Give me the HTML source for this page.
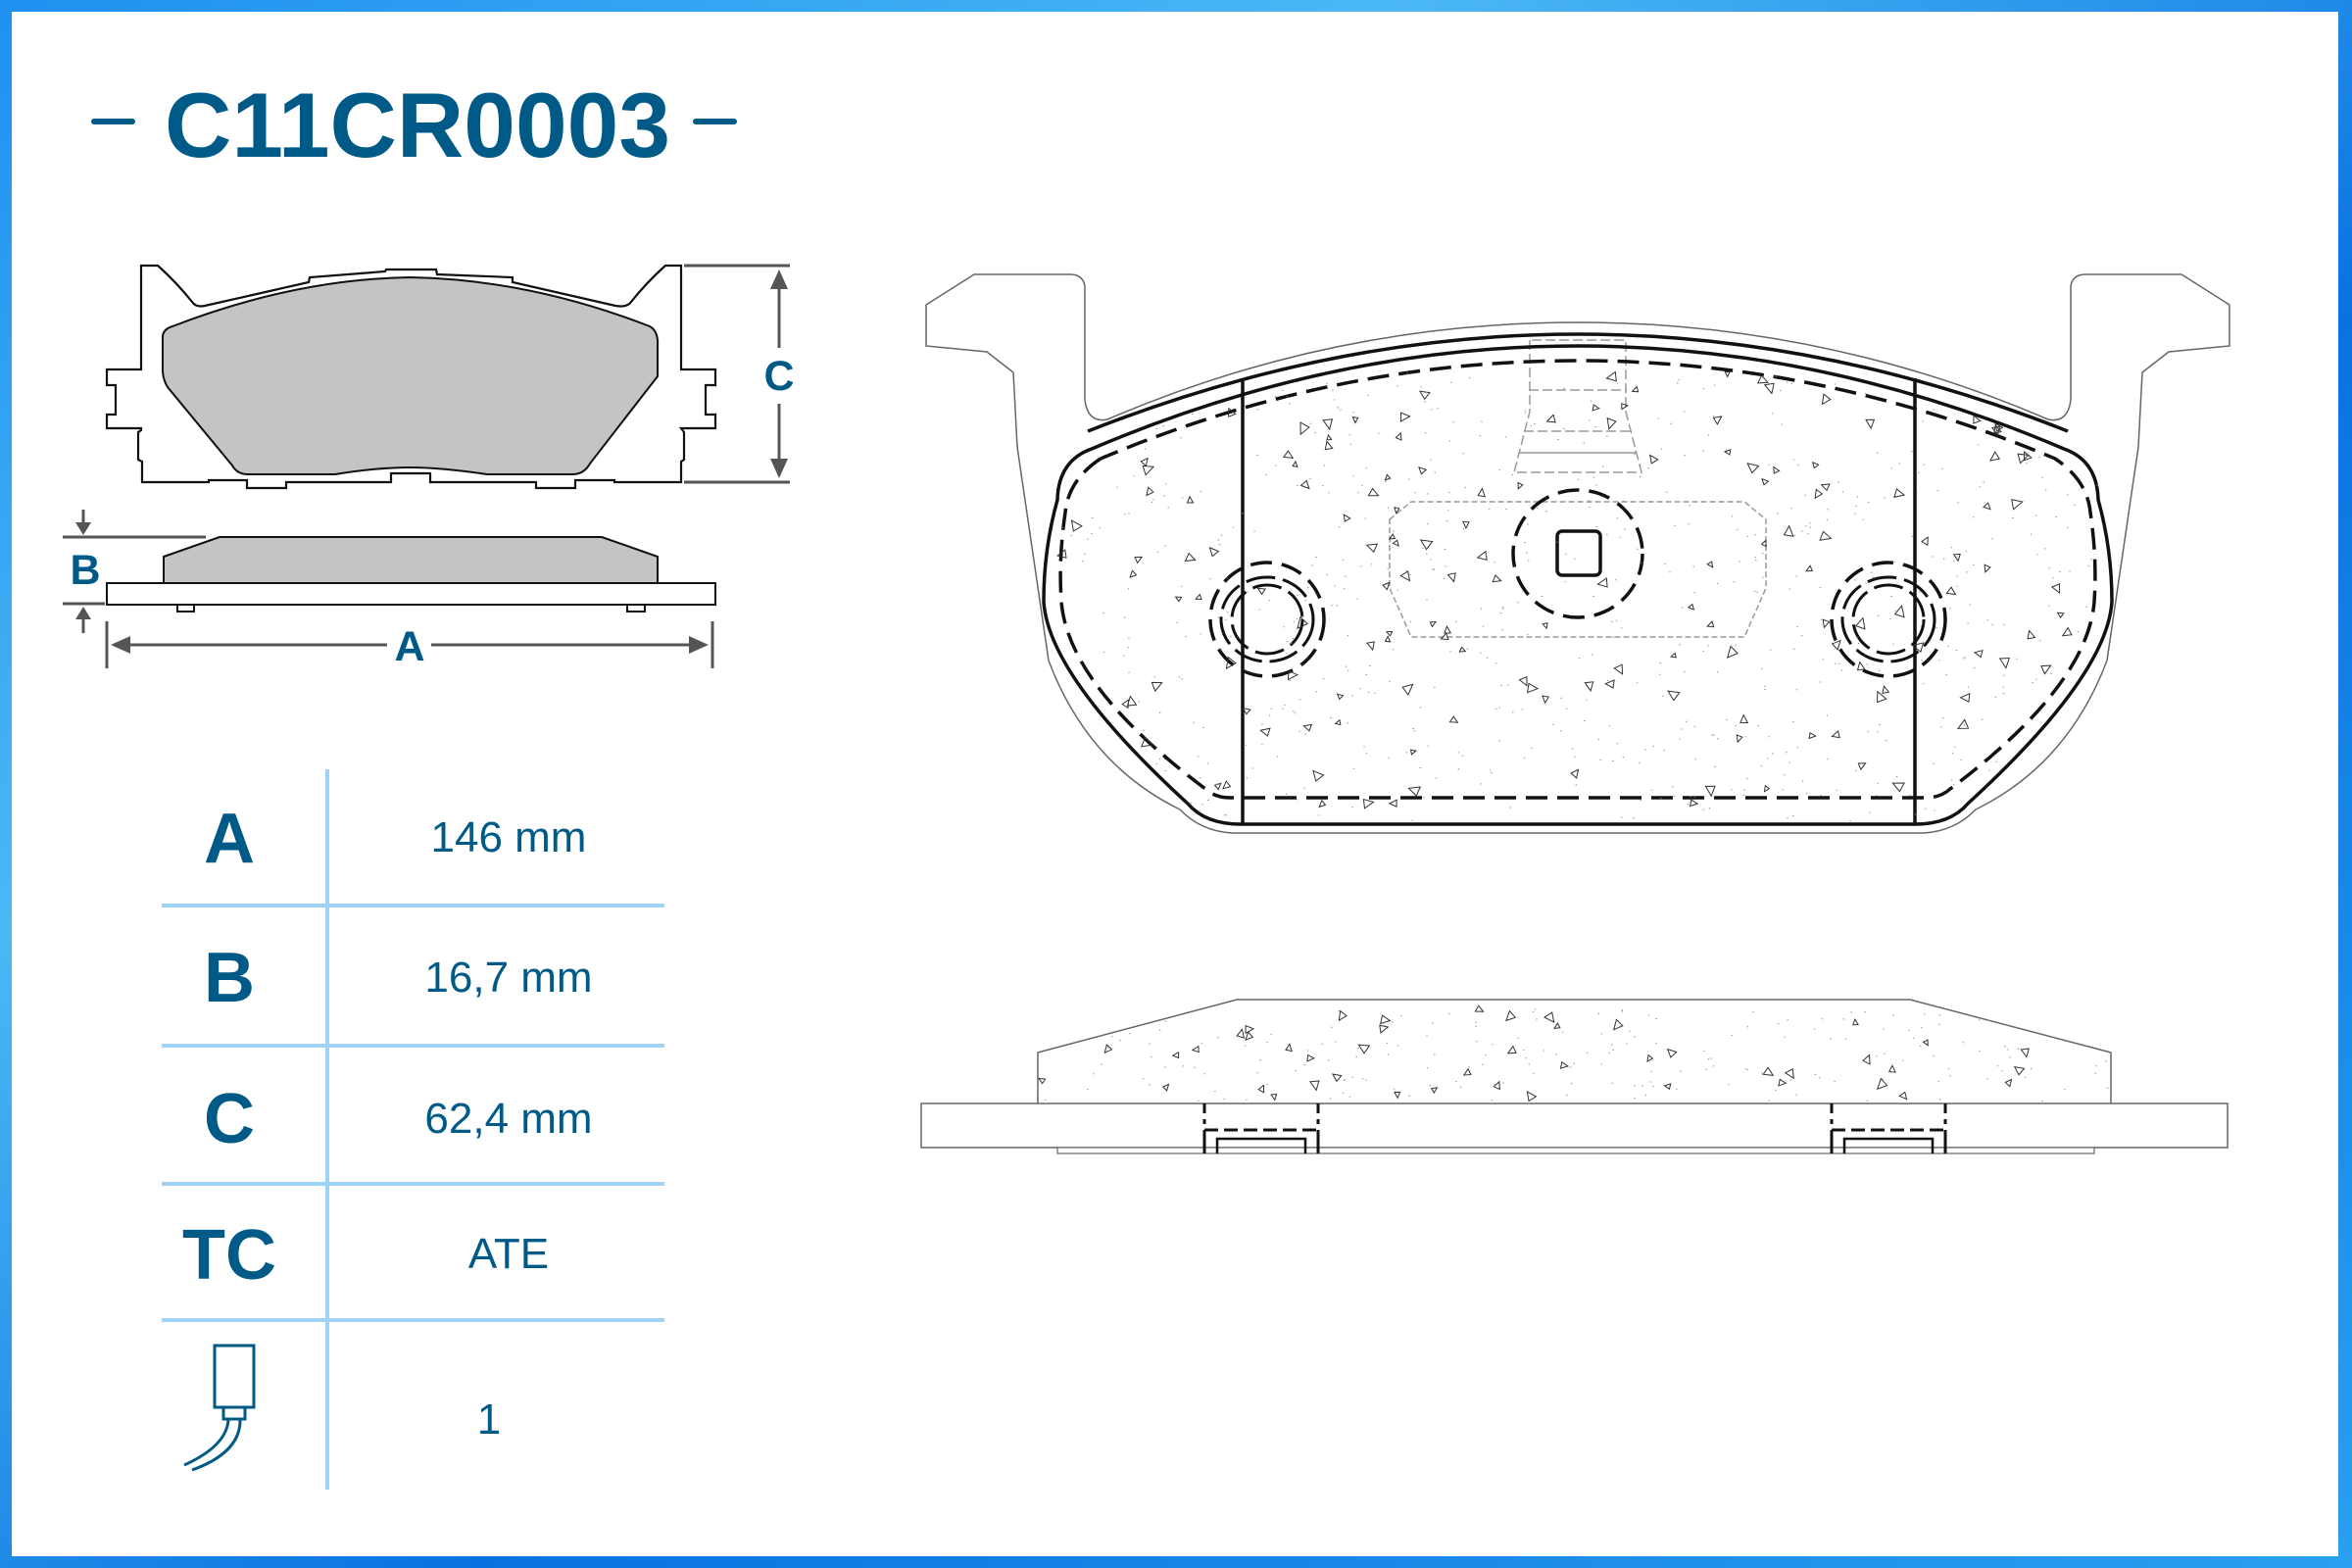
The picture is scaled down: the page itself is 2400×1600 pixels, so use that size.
<!DOCTYPE html>
<html><head><meta charset="utf-8"><style>
html,body{margin:0;padding:0;width:2400px;height:1600px;overflow:hidden;background:#fff}
svg{display:block}
</style></head><body>
<svg id="s" width="2400" height="1600" viewBox="0 0 2400 1600" xmlns="http://www.w3.org/2000/svg" font-family="Liberation Sans, Arial, sans-serif">
<defs>
<linearGradient id="bg" x1="0" y1="0" x2="1" y2="1">
<stop offset="0" stop-color="#1e90f0"/><stop offset="0.3" stop-color="#4bb8f5"/><stop offset="0.6" stop-color="#0a72e0"/><stop offset="1" stop-color="#2aa0f0"/>
</linearGradient>
</defs>
<rect width="2400" height="1600" fill="url(#bg)"/>
<rect x="12" y="12" width="2374" height="1576" fill="#fff"/>

<g fill="#005a87">
<rect x="93" y="121" width="45" height="6" rx="3"/>
<rect x="707" y="121" width="45" height="6" rx="3"/>
<text x="168" y="160" font-size="94" font-weight="bold" textLength="516" lengthAdjust="spacingAndGlyphs">C11CR0003</text>
</g>

<path d="M144,271 L161,271 Q180,288 196,308 Q200,314 209,312 L315,288 L316,283 L393,277 L394,275 L445,275 L446,280 L523,283 L523,288 L628,312 Q640,314 644,308 Q660,288 679,271 L695,271 L695,377 L730,377 L730,393 L720,393 L720,423 L730,423 L730,437 L695,437 L698,441 L698,469 L695,471 L695,492 L627,492 L627,490 L587,490 L587,498 L547,498 L547,492 L439,492 L439,483 L399,483 L399,492 L292,492 L292,498 L252,498 L252,490 L213,490 L213,492 L145,492 L145,471 L141,469 L141,441 L144,439 L144,437 L109,437 L109,423 L118,423 L118,393 L109,393 L109,377 L144,377 Z" fill="#fff" stroke="#111" stroke-width="2.2"/>
<path d="M176,333 Q300,285 418,283 Q540,285 663,333 Q672,338 671,353 L671,384 L602,473 Q596,484 584,484 L497,484 Q450,477 418,477 Q385,477 342,484 L253,484 Q242,484 237,475 L171,395 Q166,387 166,377 L166,344 Q166,336 176,333 Z" fill="#c4c4c4" stroke="#111" stroke-width="2"/>

<path d="M167,568 L224,548 L614,548 L671,568 L671,595 L167,595 Z" fill="#c4c4c4" stroke="#111" stroke-width="2"/>
<rect x="109" y="595" width="621" height="22" fill="#fff" stroke="#111" stroke-width="2"/>
<path d="M181,617 L181,624 L198,624 L198,617 M640,617 L640,624 L658,624 L658,617" fill="none" stroke="#111" stroke-width="2"/>

<g stroke="#555" stroke-width="3" fill="#555">
<line x1="64" y1="548" x2="210" y2="548"/>
<line x1="64" y1="616" x2="107" y2="616"/>
<line x1="85" y1="520" x2="85" y2="535"/><path d="M77,533 L93,533 L85,546 Z" stroke="none"/>
<line x1="85" y1="632" x2="85" y2="646"/><path d="M77,632 L93,632 L85,619 Z" stroke="none"/>
<line x1="109" y1="634" x2="109" y2="682"/><line x1="727" y1="634" x2="727" y2="682"/>
<line x1="125" y1="658" x2="395" y2="658"/><line x1="440" y1="658" x2="712" y2="658"/>
<path d="M113,658 L133,649 L133,667 Z" stroke="none"/><path d="M723,658 L703,649 L703,667 Z" stroke="none"/>
<line x1="698" y1="271" x2="806" y2="271"/><line x1="698" y1="492" x2="806" y2="492"/>
<line x1="795" y1="290" x2="795" y2="355"/><line x1="795" y1="412" x2="795" y2="474"/>
<path d="M795,275 L786,295 L804,295 Z" stroke="none"/><path d="M795,488 L786,468 L804,468 Z" stroke="none"/>
</g>
<g fill="#005a87" font-weight="bold" font-size="43" text-anchor="middle">
<text x="87" y="596">B</text>
<text x="418" y="674">A</text>
<text x="795" y="398">C</text>
</g>

<g fill="#9fd3f5">
<rect x="332" y="785" width="4" height="735"/>
<rect x="165" y="922" width="513" height="4"/>
<rect x="165" y="1065" width="513" height="4"/>
<rect x="165" y="1206" width="513" height="4"/>
<rect x="165" y="1345" width="513" height="4"/>
</g>
<g fill="#005a87" font-weight="bold" font-size="72" text-anchor="middle">
<text x="234" y="880">A</text>
<text x="234" y="1022">B</text>
<text x="234" y="1166">C</text>
<text x="234" y="1305">TC</text>
</g>
<g fill="#005a87" font-size="44" text-anchor="middle">
<text x="519" y="869">146 mm</text>
<text x="519" y="1012">16,7 mm</text>
<text x="519" y="1156">62,4 mm</text>
<text x="519" y="1294">ATE</text>
<text x="499" y="1463">1</text>
</g>
<g stroke="#005a87" stroke-width="3" fill="none">
<rect x="219" y="1373" width="40" height="63"/>
<rect x="228" y="1436" width="22" height="12"/>
<path d="M233,1448 Q232,1475 188,1495"/>
<path d="M245,1448 Q246,1482 196,1500"/>
</g>

<g fill="none" stroke="#666" stroke-width="1.5">
<path d="M1107,408 L1107,292 Q1105,280 1092,280 L994,280 L945,311 L945,353 L1007,359 L1034,380 L1038,456 L1070,674 Q1110,780 1204,826 Q1225,848 1257,850 L1963,850 Q1995,848 2016,826 Q2110,780 2150,674 L2182,456 L2186,380 L2213,359 L2275,353 L2275,311 L2226,280 L2128,280 Q2115,280 2113,292 L2113,408"/>
<path d="M1107,408 Q1110,432 1130,428 Q1360,329 1610,329 Q1860,329 2090,428 Q2110,432 2113,408"/>
<path d="M1418,530 L1440,512 L1780,512 L1802,530 L1802,600 L1780,650 L1440,650 L1418,600 Z" stroke="#999" stroke-dasharray="6,3"/>
<path d="M1561,347 L1561,420 L1545,482 L1675,482 L1659,420 L1659,347 Z" stroke="#999" stroke-dasharray="10,4"/>
<line x1="1560" y1="398" x2="1660" y2="398" stroke="#999" stroke-dasharray="10,4"/>
<line x1="1555" y1="440" x2="1665" y2="440" stroke="#999" stroke-dasharray="10,4"/>
<line x1="1550" y1="462" x2="1670" y2="462" stroke="#999"/>
</g>
<g fill="none" stroke="#111" stroke-width="3.5">
<path d="M1110,440 Q1360,341 1610,341 Q1860,341 2110,440"/>
<path d="M1114,458 Q1080,470 1079,510 Q1065,560 1065,614 Q1070,690 1212,820 Q1230,841 1266,841 L1954,841 Q1990,841 2008,820 Q2150,690 2155,614 Q2155,560 2141,510 Q2140,470 2106,458 Q1860,353 1610,353 Q1360,353 1114,458 Z"/>
<line x1="1268" y1="386" x2="1268" y2="841"/>
<line x1="1954" y1="386" x2="1954" y2="841"/>
<rect x="1589" y="542" width="44" height="45" rx="5"/>
</g>
<g fill="none" stroke="#111" stroke-width="3.5" stroke-dasharray="22,10">
<path d="M1123,468 Q1090,490 1087,523 Q1080,570 1083,614 Q1090,700 1230,805 Q1240,814 1255,814 L1965,814 Q1980,814 1990,805 Q2130,700 2137,614 Q2140,570 2133,523 Q2130,490 2097,468 Q1860,368 1610,368 Q1360,368 1123,468"/>
<circle cx="1293" cy="632" r="58"/><circle cx="1927" cy="632" r="58"/>
<ellipse cx="1610" cy="565" rx="66" ry="65"/>
</g>
<g fill="none" stroke="#111" stroke-width="3" stroke-dasharray="30,8">
<ellipse cx="1293" cy="632" rx="47" ry="43"/><ellipse cx="1927" cy="632" rx="47" ry="43"/>
<ellipse cx="1293" cy="632" rx="36" ry="35"/><ellipse cx="1927" cy="632" rx="36" ry="35"/>
</g>

<path d="M1059,1126 L1059,1074 L1262,1020 L1949,1020 L2154,1074 L2154,1126" fill="#fff" stroke="#666" stroke-width="1.5"/>
<rect x="940" y="1126" width="1333" height="45" fill="#fff" stroke="#666" stroke-width="1.5"/>
<rect x="1079" y="1171" width="1058" height="6" fill="#fff" stroke="#666" stroke-width="1.2"/>
<g fill="none" stroke="#111" stroke-width="3">
<path d="M1229,1126 L1229,1147 M1345,1126 L1345,1147 M1869,1126 L1869,1147 M1985,1126 L1985,1147" stroke-dasharray="10,6"/>
<path d="M1229,1153 L1345,1153 M1869,1153 L1985,1153" stroke-dasharray="14,6"/>
<path d="M1229,1153 L1229,1177 M1345,1153 L1345,1177 M1869,1153 L1869,1177 M1985,1153 L1985,1177"/>
<path d="M1242,1177 L1242,1162 L1332,1162 L1332,1177 M1882,1177 L1882,1162 L1972,1162 L1972,1177" stroke-width="2.5"/>
</g>
<g id="sp" fill="none" stroke="#333" stroke-width="1"></g>
</svg>
<script>
(function(){
var s=12345;function r(){s=(s*16807)%2147483647;return s/2147483647;}
var g=document.getElementById('sp'),out='';
function inFront(x,y){if(y<380||y>838)return false;var cx=1610;var dx=Math.abs(x-cx);
 var top=341+ (dx*dx)/ (496*496)*109+12; if(y<top)return false;
 var lim = y<614?530: 530-(y-614)*0.6; return dx<lim;}
function inSide(x,y){if(y<1030||y>1124)return false;var dx=Math.abs(x-1606);var lim=y<1074?343+(y-1020)*3.8:545;return dx<lim;}
function tri(x,y,sz){var a=r()*6.28;var p=[];for(var i=0;i<3;i++){var b=a+i*2.09+(i==1?0.3:0);p.push((x+Math.cos(b)*sz).toFixed(1)+','+(y+Math.sin(b)*sz).toFixed(1));}
 out+='<polygon points="'+p.join(' ')+'"/>';}
var n=0;while(n<150){var x=1065+r()*1090,y=350+r()*490;if(inFront(x,y)){tri(x,y,3+r()*3.5);n++;}}
n=0;while(n<45){var x=1060+r()*1095,y=1022+r()*102;if(inSide(x,y)){tri(x,y,3+r()*3);n++;}}
var d='';n=0;while(n<600){var x=1065+r()*1090,y=350+r()*490;if(inFront(x,y)){d+='M'+x.toFixed(1)+','+y.toFixed(1)+'h1.3';n++;}}
n=0;while(n<180){var x=1060+r()*1095,y=1022+r()*102;if(inSide(x,y)){d+='M'+x.toFixed(1)+','+y.toFixed(1)+'h1.3';n++;}}
out+='<path d="'+d+'" stroke="#888"/>';
g.innerHTML=out;
})();
</script>
</body></html>
